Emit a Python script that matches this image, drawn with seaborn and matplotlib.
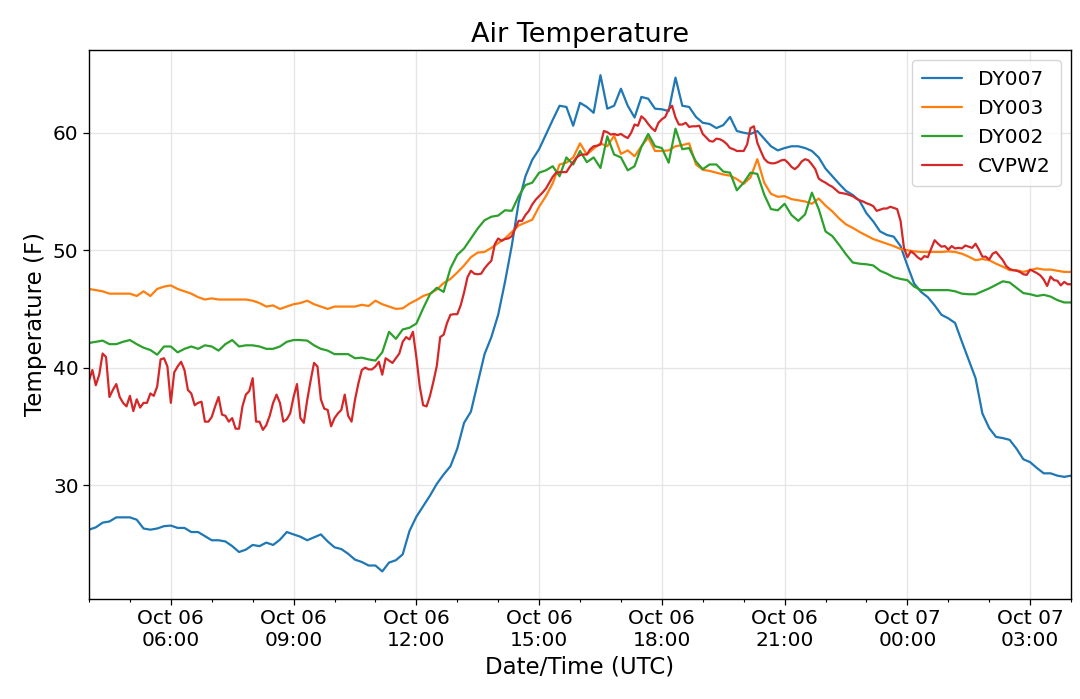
import pandas as pd
import matplotlib
matplotlib.use("Agg")
import matplotlib.pyplot as plt
import matplotlib.dates as mdates
import seaborn as sns

# station names, in legend order
stations = ["DY007", "DY003", "DY002", "CVPW2"]
colors = ["#1f77b4", "#ff7f0e", "#2ca02c", "#d62728"]

# DY stations report every 10 minutes from Oct 06 04:00 UTC
dy007 = [
    26.2, 26.4, 26.8, 26.9, 27.25, 27.25, 27.25, 27.05, 26.3, 26.2, 26.3, 26.5,
    26.55, 26.35, 26.35, 26.0, 26.0, 25.65, 25.3, 25.3, 25.2, 24.8, 24.3, 24.5,
    24.9, 24.8, 25.1, 24.9, 25.35, 26.0, 25.8, 25.6, 25.3, 25.55, 25.8, 25.2,
    24.7, 24.55, 24.15, 23.65, 23.45, 23.15, 23.15, 22.65, 23.4, 23.6, 24.1, 26.1,
    27.3, 28.2, 29.1, 30.1, 30.9, 31.6, 33.1, 35.3, 36.25, 38.7, 41.15, 42.6,
    44.5, 47.3, 50.4, 54.05, 56.3, 57.7, 58.6, 59.85, 61.1, 62.3, 62.2, 60.6,
    62.55, 62.2, 61.7, 64.9, 62.05, 62.3, 63.75, 62.3, 61.3, 63.05, 62.9, 62.05,
    62.0, 61.85, 64.7, 62.3, 62.2, 61.35, 60.85, 60.75, 60.4, 60.65, 61.35, 60.15,
    60.0, 59.9, 60.15, 59.5, 58.85, 58.5, 58.7, 58.85, 58.85, 58.7, 58.45, 57.9,
    56.95, 56.3, 55.65, 55.05, 54.7, 54.2, 53.15, 52.45, 51.6, 51.3, 51.15, 50.35,
    48.7, 47.15, 46.45, 46.0, 45.3, 44.5, 44.2, 43.8, 42.2, 40.65, 39.1, 36.1,
    34.85, 34.1, 34.0, 33.85, 33.1, 32.2, 31.95, 31.45, 31.0, 31.0, 30.8, 30.7,
    30.8,
]
dy003 = [
    46.7, 46.6, 46.5, 46.3, 46.3, 46.3, 46.3, 46.1, 46.5, 46.1, 46.7, 46.9,
    47.0, 46.7, 46.5, 46.3, 46.0, 45.8, 45.9, 45.8, 45.8, 45.8, 45.8, 45.8,
    45.7, 45.5, 45.2, 45.3, 45.0, 45.2, 45.4, 45.5, 45.7, 45.4, 45.2, 45.0,
    45.2, 45.2, 45.2, 45.2, 45.35, 45.25, 45.7, 45.4, 45.2, 45.0, 45.05, 45.45,
    45.75, 46.1, 46.3, 46.65, 47.2, 47.55, 48.1, 48.7, 49.4, 49.8, 49.85, 50.2,
    50.6, 51.0, 51.55, 52.1, 52.35, 52.6, 53.7, 54.6, 55.7, 57.3, 57.45, 57.9,
    59.1, 58.15, 58.65, 59.1, 58.85, 59.75, 58.2, 58.5, 58.0, 58.85, 59.6, 58.45,
    58.45, 58.5, 58.85, 58.95, 59.1, 57.3, 56.85, 56.75, 56.6, 56.45, 56.35, 56.05,
    55.65, 56.2, 57.75, 55.75, 54.8, 54.55, 54.6, 54.35, 54.25, 54.15, 53.95, 54.4,
    53.8, 53.3, 52.7, 52.2, 51.9, 51.55, 51.25, 50.95, 50.75, 50.55, 50.35, 50.1,
    50.0, 49.9, 49.85, 49.85, 49.85, 49.85, 49.9, 49.85, 49.7, 49.45, 49.15, 49.25,
    49.15, 48.85, 48.6, 48.3, 48.3, 48.15, 48.3, 48.45, 48.35, 48.35, 48.25, 48.15,
    48.15,
]
dy002 = [
    42.1, 42.2, 42.3, 42.0, 42.0, 42.2, 42.35, 42.0, 41.7, 41.5, 41.1, 41.8,
    41.8, 41.3, 41.6, 41.8, 41.6, 41.9, 41.8, 41.45, 42.0, 42.35, 41.8, 41.9,
    41.9, 41.8, 41.6, 41.6, 41.8, 42.2, 42.35, 42.35, 42.3, 41.9, 41.6, 41.45,
    41.15, 41.15, 41.15, 40.8, 40.85, 40.7, 40.6, 41.3, 43.05, 42.45, 43.25, 43.4,
    43.75, 45.05, 46.25, 46.8, 46.45, 48.45, 49.6, 50.15, 51.0, 51.85, 52.55, 52.85,
    52.95, 53.4, 53.35, 54.6, 55.55, 55.75, 56.6, 56.8, 57.15, 56.3, 57.9, 57.3,
    58.45, 57.5, 57.9, 57.0, 59.7, 58.15, 57.9, 56.8, 57.15, 58.8, 59.9, 58.85,
    58.7, 57.45, 60.35, 58.6, 58.7, 57.55, 56.9, 57.3, 57.3, 56.7, 56.6, 55.1,
    55.75, 56.6, 56.5, 54.75, 53.5, 53.4, 53.95, 53.0, 52.5, 53.05, 54.9, 53.5,
    51.6, 51.2, 50.45, 49.65, 48.95, 48.85, 48.8, 48.7, 48.25, 48.0, 47.7, 47.55,
    47.45, 46.9, 46.6, 46.6, 46.6, 46.6, 46.6, 46.5, 46.3, 46.25, 46.25, 46.5,
    46.75, 47.05, 47.35, 47.25, 46.8, 46.35, 46.25, 46.1, 46.2, 46.05, 45.75, 45.55,
    45.55,
]

# CVPW2 reports every 5 minutes (one row = one hour)
cvpw2 = [
    38.9, 39.8, 38.5, 39.4, 41.2, 40.9, 37.5, 38.1, 38.6, 37.5, 37.0, 36.7,
    37.6, 36.3, 37.3, 36.6, 37.0, 37.0, 37.8, 37.6, 38.4, 40.7, 40.8, 40.1,
    37.0, 39.6, 40.1, 40.5, 39.8, 38.1, 37.8, 36.8, 37.0, 37.1, 35.4, 35.4,
    35.8, 36.7, 37.5, 36.0, 35.9, 35.4, 35.7, 34.8, 34.8, 36.7, 37.7, 38.0,
    39.1, 35.4, 35.4, 34.7, 35.1, 35.9, 37.0, 37.7, 37.0, 35.4, 35.6, 36.1,
    37.5, 38.6, 35.7, 35.3, 37.25, 38.9, 40.4, 40.1, 37.3, 36.5, 36.4, 35.0,
    35.7, 36.1, 36.4, 37.7, 35.9, 35.4, 37.25, 38.65, 39.8, 40.0, 39.85, 39.85,
    40.1, 40.5, 39.4, 40.8, 40.6, 40.4, 40.8, 41.2, 42.2, 42.6, 42.4, 43.05,
    40.9, 38.4, 36.8, 36.7, 37.6, 38.8, 40.15, 42.6, 42.8, 43.8, 44.5, 44.55,
    44.55, 45.3, 46.4, 47.7, 48.25, 48.0, 47.95, 48.0, 48.45, 48.8, 49.1, 50.5,
    51.0, 50.8, 50.95, 51.0, 51.2, 51.85, 52.5, 52.5, 53.0, 53.35, 53.9, 54.3,
    54.6, 54.9, 55.25, 55.75, 56.25, 56.6, 56.65, 56.65, 56.65, 57.1, 57.5, 57.9,
    58.1, 58.15, 58.15, 58.6, 58.85, 58.9, 59.0, 60.15, 60.05, 59.85, 59.9, 59.8,
    59.9, 59.7, 59.55, 60.0, 60.7, 60.6, 61.4, 61.15, 60.75, 60.4, 60.15, 60.85,
    61.15, 61.35, 62.0, 62.3, 61.3, 60.7, 60.7, 60.85, 60.5, 60.55, 60.55, 60.6,
    59.9, 59.6, 59.3, 59.25, 59.5, 59.45, 59.3, 59.05, 58.7, 58.6, 58.45, 58.45,
    58.45, 59.0, 60.4, 60.55, 59.15, 58.45, 57.8, 57.5, 57.4, 57.4, 57.5, 57.65,
    57.7, 57.45, 57.1, 56.9, 57.15, 57.55, 57.75, 57.65, 57.3, 56.9, 56.1, 55.9,
    55.75, 55.55, 55.4, 55.15, 54.9, 54.85, 54.8, 54.7, 54.6, 54.4, 54.25, 54.15,
    54.0, 53.9, 53.75, 53.35, 53.45, 53.55, 53.55, 53.7, 53.6, 53.5, 52.5, 50.2,
    49.4, 49.9, 49.7, 49.4, 49.2, 49.5, 49.4, 50.15, 50.85, 50.55, 50.3, 50.35,
    50.05, 50.35, 50.15, 50.2, 50.15, 50.4, 50.3, 50.2, 50.55, 50.05, 49.45, 49.45,
    49.2, 49.7, 49.85, 49.5, 49.15, 48.65, 48.4, 48.3, 48.25, 48.15, 47.95, 47.9,
    48.35, 48.2, 48.05, 47.85, 47.5, 46.95, 47.75, 47.45, 47.4, 47.0, 47.3, 47.1,
    47.1,
]

start = pd.Timestamp("2020-10-06 04:00")
end = pd.Timestamp("2020-10-07 04:00")


def station_frame(name, values, step):
    times = pd.date_range(start, periods=len(values), freq=step)
    return pd.DataFrame({"time": times, "temp": values, "station": name})


df = pd.concat([
    station_frame("DY007", dy007, "10min"),
    station_frame("DY003", dy003, "10min"),
    station_frame("DY002", dy002, "10min"),
    station_frame("CVPW2", cvpw2, "5min"),
], ignore_index=True)

sns.set_theme(style="whitegrid", rc={
    "axes.edgecolor": "black",
    "axes.linewidth": 1.0,
    "axes.labelcolor": "black",
    "text.color": "black",
    "grid.color": "#e6e6e6",
    "grid.linewidth": 1.0,
    "xtick.bottom": True,
    "ytick.left": True,
    "xtick.color": "black",
    "ytick.color": "black",
    "xtick.labelcolor": "black",
    "ytick.labelcolor": "black",
    "xtick.major.size": 4,
    "xtick.minor.size": 2.5,
    "ytick.major.size": 4,
    "xtick.major.width": 0.9,
    "xtick.minor.width": 0.8,
    "ytick.major.width": 0.9,
    "xtick.direction": "out",
    "ytick.direction": "out",
})
plt.rcParams["font.family"] = ["DejaVu Sans"]

fig = plt.figure(figsize=(10.8, 6.99), dpi=100)
ax = fig.add_axes([0.0824, 0.1431, 0.9093, 0.7854])

sns.lineplot(data=df, x="time", y="temp", hue="station", hue_order=stations,
             palette=dict(zip(stations, colors)), errorbar=None,
             linewidth=1.6, ax=ax)

ax.set_xlim(start, end)
ax.set_ylim(20.3, 67.05)
ax.set_yticks([30, 40, 50, 60])
ax.xaxis.set_major_locator(mdates.HourLocator(byhour=[0, 3, 6, 9, 12, 15, 18, 21]))
ax.xaxis.set_minor_locator(mdates.HourLocator())
ax.xaxis.set_major_formatter(mdates.DateFormatter("%b %d\n%H:%M"))
ax.grid(True, which="major")
ax.tick_params(axis="both", which="major", labelsize=14.5)

for side in ["top", "right", "left", "bottom"]:
    ax.spines[side].set_visible(True)
    ax.spines[side].set_color("black")

ax.set_title("Air Temperature", fontsize=19.5)
ax.set_xlabel("Date/Time (UTC)", fontsize=16.5)
ax.set_ylabel("Temperature (F)", fontsize=16.5)

handles, labels = ax.get_legend_handles_labels()
ax.legend(handles, labels, loc="upper right", fontsize=14.5, frameon=True,
          framealpha=0.8, edgecolor="#cccccc", fancybox=True, borderpad=0.5)

fig.savefig("out.png", dpi=100)
